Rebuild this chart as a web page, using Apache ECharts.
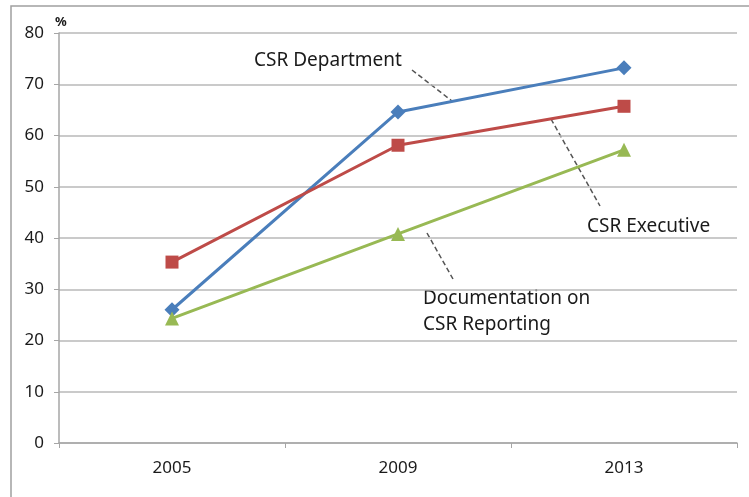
<!DOCTYPE html>
<html lang="en">
<head>
    <meta charset="UTF-8">
    <title>CSR chart</title>
    <script src="https://cdn.jsdelivr.net/npm/echarts@6/dist/echarts.min.js"></script>
</head>
<body style="margin:0">
<div id="my" style="width: 749px;height: 497px;"></div>
<script>
    // categories and values
    var years = ['2005', '2009', '2013']
    var csrDept = [26, 64.6, 73.2]
    var csrExec = [35.3, 58.1, 65.7]
    var csrDoc = [24.3, 40.8, 57.2]
    var yTicks = [0, 10, 20, 30, 40, 50, 60, 70, 80]

    var font = '"Noto Sans", sans-serif'
    var mCharts = echarts.init(document.getElementById('my'))

    function lineSeries(name, data, color, symbol, size) {
        return {
            name: name,
            type: 'line',
            data: data,
            symbol: symbol,
            symbolSize: size,
            lineStyle: {color: color, width: 3},
            itemStyle: {color: color},
            animation: false
        }
    }

    var option = {
        backgroundColor: '#fff',
        grid: {left: 59, right: 12, top: 33, bottom: 54},
        xAxis: {
            type: 'category',
            data: years,
            boundaryGap: true,
            axisLine: {lineStyle: {color: '#a6a6a6', width: 1.5}},
            axisTick: {show: true, length: 5, lineStyle: {color: '#a6a6a6'}},
            axisLabel: {color: '#1a1a1a', fontSize: 17, fontFamily: font, margin: 17}
        },
        yAxis: {
            type: 'value',
            min: yTicks[0],
            max: yTicks[yTicks.length - 1],
            interval: 10,
            name: '%',
            nameLocation: 'end',
            nameGap: 4,
            nameTextStyle: {color: '#1a1a1a', fontSize: 13, fontWeight: 'bold', fontFamily: font, align: 'left', padding: [0, 0, 0, -4]},
            axisLine: {show: true, lineStyle: {color: '#a6a6a6', width: 1.5}},
            axisTick: {show: true, length: 5, lineStyle: {color: '#a6a6a6'}},
            axisLabel: {color: '#1a1a1a', fontSize: 17, fontFamily: font, margin: 15},
            splitLine: {lineStyle: {color: '#b8b8b8', width: 1.5}}
        },
        series: [
            lineSeries('CSR Department', csrDept, '#4a7ebb', 'diamond', 15),
            lineSeries('CSR Executive', csrExec, '#be4b48', 'rect', 13),
            lineSeries('Documentation on CSR Reporting', csrDoc, '#98b954', 'triangle', 14)
        ],
        graphic: [
            {type: 'rect', shape: {x: 11, y: 6, width: 740, height: 500}, style: {fill: 'none', stroke: '#a0a0a0', lineWidth: 1.5}, silent: true},
            {type: 'text', left: 254, top: 51, style: {text: 'CSR Department', fontSize: 19, fontFamily: font, fill: '#1a1a1a'}},
            {type: 'line', shape: {x1: 412, y1: 70, x2: 452, y2: 101}, style: {stroke: '#555', lineWidth: 1.5, lineDash: [5, 3]}},
            {type: 'text', left: 587, top: 217, style: {text: 'CSR Executive', fontSize: 19, fontFamily: font, fill: '#1a1a1a'}},
            {type: 'line', shape: {x1: 551, y1: 119, x2: 600, y2: 206}, style: {stroke: '#555', lineWidth: 1.5, lineDash: [5, 3]}},
            {type: 'text', left: 423, top: 286, style: {text: 'Documentation on\nCSR Reporting', fontSize: 19, lineHeight: 26, fontFamily: font, fill: '#1a1a1a'}},
            {type: 'line', shape: {x1: 427, y1: 233, x2: 453, y2: 279}, style: {stroke: '#555', lineWidth: 1.5, lineDash: [5, 3]}}
        ]
    }
    mCharts.setOption(option)
</script>
</body>
</html>
